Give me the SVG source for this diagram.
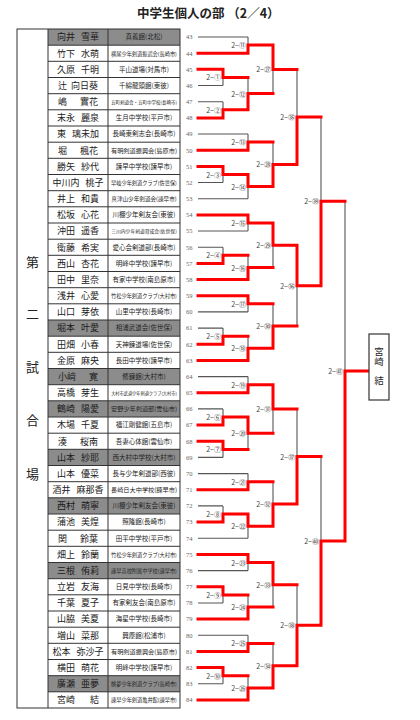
<svg xmlns="http://www.w3.org/2000/svg" width="420" height="720" viewBox="0 0 420 720">
<style>
.ttl{font-family:"Noto Sans CJK JP","Noto Sans",sans-serif;font-size:12.5px;font-weight:bold;fill:#222}
.ven{font-family:"Noto Sans CJK JP",sans-serif;font-size:13px;fill:#222;text-anchor:middle}
.nm{font-family:"Noto Sans CJK JP",sans-serif;font-size:9px;fill:#1a1a1a;text-anchor:middle;white-space:pre}
.cl{font-family:"Noto Sans CJK JP",sans-serif;font-size:6.5px;fill:#222;text-anchor:middle}
.c62{font-size:6.2px}.c56{font-size:5.6px}.c52{font-size:5.2px}.c48{font-size:4.8px}.c45{font-size:4.5px}.c42{font-size:4.2px}
.no{font-family:"Liberation Serif",serif;font-size:6.5px;fill:#666}
.lb{font-family:"Noto Sans CJK JP",sans-serif;font-size:7px;fill:#444;text-anchor:end}
.g{fill:none;stroke:#555;stroke-width:1.1}
.r{fill:none;stroke:#f00;stroke-width:3;stroke-linecap:square}
.grid{fill:none;stroke:#333;stroke-width:1}
.sh{fill:#8c8c8c}
.vt{font-family:"Noto Sans CJK JP",sans-serif;font-size:9.5px;fill:#222;writing-mode:vertical-rl;white-space:pre}
</style>
<rect width="420" height="720" fill="#fff"/>
<text class="ttl" x="137" y="18">中学生個人の部 （2／4）</text>

<g id="table">
<rect class="sh" x="48" y="29" width="132" height="16.17"/>
<rect class="sh" x="48" y="320" width="132" height="16.17"/>
<rect class="sh" x="48" y="368.5" width="132" height="16.17"/>
<rect class="sh" x="48" y="400.8" width="132" height="16.17"/>
<rect class="sh" x="48" y="449.3" width="132" height="16.17"/>
<rect class="sh" x="48" y="497.8" width="132" height="16.17"/>
<rect class="sh" x="48" y="562.5" width="132" height="16.17"/>
<rect class="sh" x="48" y="675.7" width="132" height="16.17"/>
<rect class="grid" x="17" y="29" width="163" height="679"/>
<path class="grid" d="M48 29V708M108 29V708
M48 45.2H180M48 61.3H180M48 77.5H180M48 93.7H180M48 109.8H180M48 126H180M48 142.2H180M48 158.3H180M48 174.5H180M48 190.7H180
M48 206.8H180M48 223H180M48 239.2H180M48 255.3H180M48 271.5H180M48 287.7H180M48 303.8H180M48 320H180M48 336.2H180M48 352.3H180
M48 368.5H180M48 384.7H180M48 400.8H180M48 417H180M48 433.2H180M48 449.3H180M48 465.5H180M48 481.7H180M48 497.8H180M48 514H180
M48 530.2H180M48 546.3H180M48 562.5H180M48 578.7H180M48 594.8H180M48 611H180M48 627.2H180M48 643.3H180M48 659.5H180M48 675.7H180M48 691.8H180"/>
</g>

<g id="venue">
<text class="ven" x="32.5" y="267">第</text>
<text class="ven" x="32.5" y="319">二</text>
<text class="ven" x="32.5" y="372">試</text>
<text class="ven" x="32.5" y="425">合</text>
<text class="ven" x="32.5" y="479">場</text>
</g>

<g id="r43"><text class="nm" x="78" y="40.3">向井   雪華</text><text class="cl" x="144" y="39.3">真義館(北松)</text><text class="no" x="186" y="39.3">43</text></g>
<g id="r44"><text class="nm" x="78" y="56.5">竹下   水萌</text><text class="cl c52" x="144" y="55.5">横尾少年剣道振武会(長崎市)</text><text class="no" x="186" y="55.5">44</text></g>
<g id="r45"><text class="nm" x="78" y="72.6">久原   千明</text><text class="cl" x="144" y="71.6">平山道場(対馬市)</text><text class="no" x="186" y="71.6">45</text></g>
<g id="r46"><text class="nm" x="78" y="88.8">辻  向日葵</text><text class="cl" x="144" y="87.8">千綿龍頭館(東彼)</text><text class="no" x="186" y="87.8">46</text></g>
<g id="r47"><text class="nm" x="78" y="105">嶋　  實花</text><text class="cl c45" x="144" y="104">五町剣道会・五町中学校(長崎市)</text><text class="no" x="186" y="104">47</text></g>
<g id="r48"><text class="nm" x="78" y="121.2">末永   麗泉</text><text class="cl" x="144" y="120.2">生月中学校(平戸市)</text><text class="no" x="186" y="120.2">48</text></g>
<g id="r49"><text class="nm" x="78" y="137.3">東   璃未加</text><text class="cl" x="144" y="136.3">長崎東剣志会(長崎市)</text><text class="no" x="186" y="136.3">49</text></g>
<g id="r50"><text class="nm" x="78" y="153.5">堀　  楓花</text><text class="cl c62" x="144" y="152.5">有明剣道振興会(島原市)</text><text class="no" x="186" y="152.5">50</text></g>
<g id="r51"><text class="nm" x="78" y="169.7">勝矢   紗代</text><text class="cl" x="144" y="168.7">諫早中学校(諫早市)</text><text class="no" x="186" y="168.7">51</text></g>
<g id="r52"><text class="nm" x="78" y="185.8">中川内   桃子</text><text class="cl c52" x="144" y="184.8">早岐少年剣道クラブ(佐世保)</text><text class="no" x="186" y="184.8">52</text></g>
<g id="r53"><text class="nm" x="78" y="202">井上   和貴</text><text class="cl c56" x="144" y="201">真津山少年剣道会(諫早市)</text><text class="no" x="186" y="201">53</text></g>
<g id="r54"><text class="nm" x="78" y="218.2">松坂   心花</text><text class="cl" x="144" y="217.2">川棚少年剣友会(東彼)</text><text class="no" x="186" y="217.2">54</text></g>
<g id="r55"><text class="nm" x="78" y="234.3">沖田   遥香</text><text class="cl c48" x="144" y="233.3">三川内少年剣道育成会(佐世保)</text><text class="no" x="186" y="233.3">55</text></g>
<g id="r56"><text class="nm" x="78" y="250.5">衛藤   希実</text><text class="cl" x="144" y="249.5">愛心会剣道部(長崎市)</text><text class="no" x="186" y="249.5">56</text></g>
<g id="r57"><text class="nm" x="78" y="266.7">西山   杏花</text><text class="cl" x="144" y="265.7">明峰中学校(諫早市)</text><text class="no" x="186" y="265.7">57</text></g>
<g id="r58"><text class="nm" x="78" y="282.9">田中   里奈</text><text class="cl" x="144" y="281.9">有家中学校(南島原市)</text><text class="no" x="186" y="281.9">58</text></g>
<g id="r59"><text class="nm" x="78" y="299">浅井   心愛</text><text class="cl c52" x="144" y="298">竹松少年剣道クラブ(大村市)</text><text class="no" x="186" y="298">59</text></g>
<g id="r60"><text class="nm" x="78" y="315.2">山口   芽依</text><text class="cl" x="144" y="314.2">山里中学校(長崎市)</text><text class="no" x="186" y="314.2">60</text></g>
<g id="r61"><text class="nm" x="78" y="331.4">堀本   叶愛</text><text class="cl" x="144" y="330.4">相浦武道会(佐世保)</text><text class="no" x="186" y="330.4">61</text></g>
<g id="r62"><text class="nm" x="78" y="347.5">田畑   小春</text><text class="cl" x="144" y="346.5">天神錬道場(佐世保)</text><text class="no" x="186" y="346.5">62</text></g>
<g id="r63"><text class="nm" x="78" y="363.7">金原   麻央</text><text class="cl" x="144" y="362.7">長田中学校(諫早市)</text><text class="no" x="186" y="362.7">63</text></g>
<g id="r64"><text class="nm" x="78" y="379.9">小﨑　  寛</text><text class="cl" x="144" y="378.9">修錬館(大村市)</text><text class="no" x="186" y="378.9">64</text></g>
<g id="r65"><text class="nm" x="78" y="396">高橋   芽生</text><text class="cl c42" x="144" y="395">大村市武道少年剣道クラブ(大村市)</text><text class="no" x="186" y="395">65</text></g>
<g id="r66"><text class="nm" x="78" y="412.2">鶴崎   陽愛</text><text class="cl c62" x="144" y="411.2">安野少年剣道部(雲仙市)</text><text class="no" x="186" y="411.2">66</text></g>
<g id="r67"><text class="nm" x="78" y="428.4">木場   千夏</text><text class="cl" x="144" y="427.4">福江剛健館(五島市)</text><text class="no" x="186" y="427.4">67</text></g>
<g id="r68"><text class="nm" x="78" y="444.6">湊　  桜南</text><text class="cl" x="144" y="443.6">吾妻心体館(雲仙市)</text><text class="no" x="186" y="443.6">68</text></g>
<g id="r69"><text class="nm" x="78" y="460.7">山本   紗耶</text><text class="cl" x="144" y="459.7">西大村中学校(大村市)</text><text class="no" x="186" y="459.7">69</text></g>
<g id="r70"><text class="nm" x="78" y="476.9">山本   優菜</text><text class="cl" x="144" y="475.9">長与少年剣道部(西彼)</text><text class="no" x="186" y="475.9">70</text></g>
<g id="r71"><text class="nm" x="78" y="493.1">酒井   麻那香</text><text class="cl c62" x="144" y="492.1">長崎日大中学校(諫早市)</text><text class="no" x="186" y="492.1">71</text></g>
<g id="r72"><text class="nm" x="78" y="509.2">西村   萌寧</text><text class="cl" x="144" y="508.2">川棚少年剣友会(東彼)</text><text class="no" x="186" y="508.2">72</text></g>
<g id="r73"><text class="nm" x="78" y="525.4">蒲池   美煌</text><text class="cl" x="144" y="524.4">照隆館(長崎市)</text><text class="no" x="186" y="524.4">73</text></g>
<g id="r74"><text class="nm" x="78" y="541.6">関　  鈴葉</text><text class="cl" x="144" y="540.6">田平中学校(平戸市)</text><text class="no" x="186" y="540.6">74</text></g>
<g id="r75"><text class="nm" x="78" y="557.7">畑上   鈴蘭</text><text class="cl c52" x="144" y="556.7">竹松少年剣道クラブ(大村市)</text><text class="no" x="186" y="556.7">75</text></g>
<g id="r76"><text class="nm" x="78" y="573.9">三根   侑莉</text><text class="cl c52" x="144" y="572.9">諫早高校附属中学校(諫早市)</text><text class="no" x="186" y="572.9">76</text></g>
<g id="r77"><text class="nm" x="78" y="590.1">立岩   友海</text><text class="cl" x="144" y="589.1">日見中学校(長崎市)</text><text class="no" x="186" y="589.1">77</text></g>
<g id="r78"><text class="nm" x="78" y="606.3">千葉   夏子</text><text class="cl" x="144" y="605.3">有家剣友会(南島原市)</text><text class="no" x="186" y="605.3">78</text></g>
<g id="r79"><text class="nm" x="78" y="622.4">山脇   美夏</text><text class="cl" x="144" y="621.4">海星中学校(長崎市)</text><text class="no" x="186" y="621.4">79</text></g>
<g id="r80"><text class="nm" x="78" y="638.6">増山   菜那</text><text class="cl" x="144" y="637.6">興塵館(松浦市)</text><text class="no" x="186" y="637.6">80</text></g>
<g id="r81"><text class="nm" x="78" y="654.8">松本   弥沙子</text><text class="cl c62" x="144" y="653.8">有明剣道振興会(島原市)</text><text class="no" x="186" y="653.8">81</text></g>
<g id="r82"><text class="nm" x="78" y="670.9">横田   萌花</text><text class="cl" x="144" y="669.9">明峰中学校(諫早市)</text><text class="no" x="186" y="669.9">82</text></g>
<g id="r83"><text class="nm" x="78" y="687.1">廣瀬   亜夢</text><text class="cl c52" x="144" y="686.1">桃夢少年剣道クラブ(長崎市)</text><text class="no" x="186" y="686.1">83</text></g>
<g id="r84"><text class="nm" x="78" y="703.3">宮崎　   結</text><text class="cl c52" x="144" y="702.3">諫早少年剣道亀井館(諫早市)</text><text class="no" x="186" y="702.3">84</text></g>

<g id="connectors">
<path class="g" d="M198 37H248M198 85.5H223M198 101.7H223M198 134H248M198 182.5H223M198 198.7H248M198 231H248M198 247.2H223M198 311.9H248M198 328.1H223M198 376.6H248M198 408.9H223M198 457.4H223M198 473.6H248M198 505.9H223M198 538.3H248M198 570.6H248M198 603H223M198 635.3H248M198 683.8H223
M223 69.3V85.5M223 101.7V117.9M223 166.4V182.5M223 247.2V263.4M223 328.1V344.2M223 408.9V425.1M223 441.3V457.4M223 505.9V522.1M223 586.8V603M223 667.6V683.8
M248 37V53.2M248 77.4V109.8M248 134V150.2M248 174.5V198.7M248 214.9V231M248 255.3V279.6M248 295.7V311.9M248 336.2V360.4M248 376.6V392.7M248 417V449.4M248 473.6V489.8M248 514V538.3M248 554.4V570.6M248 594.9V619.1M248 635.3V651.5M248 675.7V700
M273 45.1V93.6M273 142.1V186.6M273 223V267.5M273 303.8V348.3M273 384.7V433.2M273 481.7V526.2M273 562.5V607M273 643.4V687.9
M297 69.4V164.4M297 245.3V326.1M297 409V504M297 584.8V665.7
M321 116.9V285.7M321 456.5V625.3M345 201.3V540.9"/>
<path class="r" d="M198 53.2H248V45.1H273M198 69.3H223V77.4H248M198 117.9H223V109.8H248M198 150.2H248V142.1H273M198 166.4H223V174.5H248V186.6H273
M198 214.9H248V223H273M198 263.4H223V255.3H248M198 279.6H248V267.5H273M198 295.7H248V303.8H273M198 344.2H223V336.2H248M198 360.4H248V348.3H273
M198 392.7H248V384.7H273M198 425.1H223V417H248V433.2H273M198 441.3H223V449.4H248M198 489.8H248V481.7H273M198 522.1H223V514H248V526.2H273
M198 554.4H248V562.5H273M198 586.8H223V594.9H248M198 619.1H248V607H273M198 651.5H248V643.4H273M198 667.6H223V675.7H248M198 700H248V687.9H273
M248 109.8V93.6H273
M273 45.1V69.4H297M273 186.6V164.4H297V116.9H321M273 223V245.3H297V285.7H321V201.3H345M273 348.3V326.1H297M273 384.7V409H297M273 526.2V504H297V456.5H321
M273 562.5V584.8H297M273 687.9V665.7H297V625.3H321V540.9H345V371.1H369"/>
</g>

<g id="labels">
<text class="lb" x="221" y="80.4">2−①</text><text class="lb" x="221" y="112.8">2−②</text><text class="lb" x="221" y="177.5">2−③</text><text class="lb" x="221" y="258.3">2−④</text><text class="lb" x="221" y="339.2">2−⑤</text>
<text class="lb" x="221" y="420">2−⑥</text><text class="lb" x="221" y="452.4">2−⑦</text><text class="lb" x="221" y="517">2−⑧</text><text class="lb" x="221" y="597.9">2−⑨</text><text class="lb" x="221" y="678.7">2−⑩</text>
<text class="lb" x="246" y="48.1">2−⑪</text><text class="lb" x="246" y="96.6">2−⑫</text><text class="lb" x="246" y="145.1">2−⑬</text><text class="lb" x="246" y="189.6">2−⑭</text><text class="lb" x="246" y="226">2−⑮</text><text class="lb" x="246" y="270.5">2−⑯</text><text class="lb" x="246" y="306.8">2−⑰</text><text class="lb" x="246" y="351.3">2−⑱</text>
<text class="lb" x="246" y="387.7">2−⑲</text><text class="lb" x="246" y="436.2">2−⑳</text><text class="lb" x="246" y="484.7">2−㉑</text><text class="lb" x="246" y="529.2">2−㉒</text><text class="lb" x="246" y="565.5">2−㉓</text><text class="lb" x="246" y="610">2−㉔</text><text class="lb" x="246" y="646.4">2−㉕</text><text class="lb" x="246" y="690.9">2−㉖</text>
<text class="lb" x="271" y="72.4">2−㉗</text><text class="lb" x="271" y="167.4">2−㉘</text><text class="lb" x="271" y="248.3">2−㉙</text><text class="lb" x="271" y="329.1">2−㉚</text><text class="lb" x="271" y="412">2−㉛</text><text class="lb" x="271" y="507">2−㉜</text><text class="lb" x="271" y="587.8">2−㉝</text><text class="lb" x="271" y="668.7">2−㉞</text>
<text class="lb" x="295" y="119.9">2−㉟</text><text class="lb" x="295" y="288.7">2−㊱</text><text class="lb" x="295" y="459.5">2−㊲</text><text class="lb" x="295" y="628.3">2−㊳</text>
<text class="lb" x="319" y="204.3">2−㊴</text><text class="lb" x="319" y="543.9">2−㊵</text><text class="lb" x="343" y="374.1">2−㊶</text>
</g>

<g id="winner">
<rect x="369" y="334" width="20" height="66" fill="#fff" stroke="#333" stroke-width="1.2"/>
<text class="vt" x="379" y="347">宮崎　結</text>
</g>
</svg>
